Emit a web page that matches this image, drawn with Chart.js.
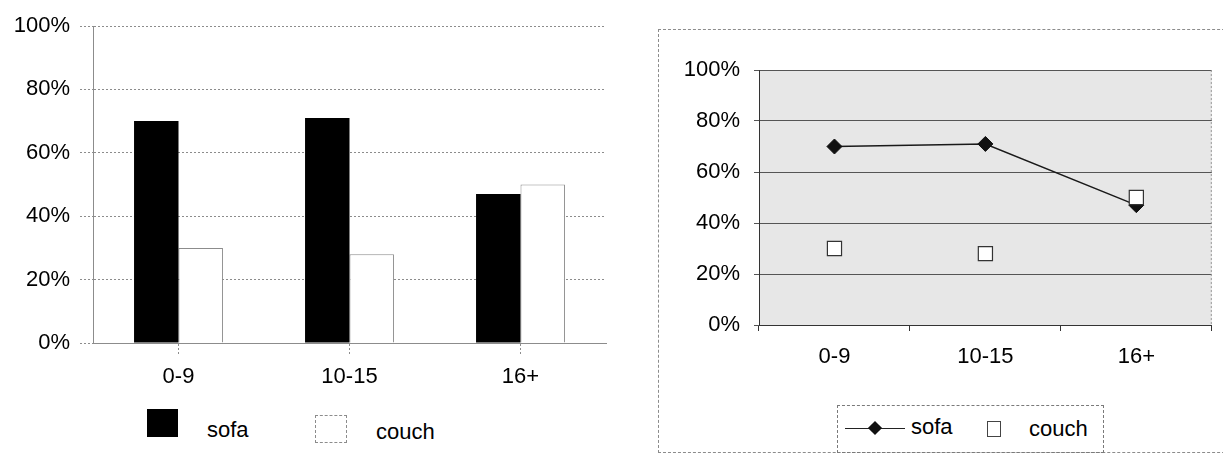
<!DOCTYPE html>
<html>
<head>
<meta charset="utf-8">
<script src="https://cdn.jsdelivr.net/npm/chart.js@4"></script>
<style>
  html, body { margin: 0; padding: 0; background: #fff; }
  body { position: relative; width: 1223px; height: 454px; overflow: hidden;
         font-family: "Liberation Sans", Arial, sans-serif; }
  .abs { position: absolute; }
  #barCanvas { position: absolute; left: 0; top: 0; }
  #lineCanvas { position: absolute; left: 640px; top: 0; }
  #frame { left: 658px; top: 29px; width: 620px; height: 422px; border: 1px dashed #8c8c8c; }
  .lbl { position: absolute; font-size: 22px; line-height: 24px; color: #000; white-space: nowrap; }
  #lineLegend { left: 837px; top: 405px; width: 265px; height: 46px; border: 1px dashed #7a7a7a; }
</style>
</head>
<body>
<div id="frame" class="abs"></div>
<canvas id="barCanvas" width="615" height="400"></canvas>
<canvas id="lineCanvas" width="583" height="400"></canvas>

<!-- legend of the column chart -->
<div class="abs" style="left:147px;top:409px;width:31px;height:28px;background:#000;"></div>
<div class="lbl" id="barLegSofa" style="left:207px;top:418px;"></div>
<div class="abs" style="left:315px;top:415px;width:30px;height:26px;background:#fff;border:1px dashed #8c8c8c;"></div>
<div class="lbl" id="barLegCouch" style="left:376px;top:420px;"></div>

<!-- legend of the line chart -->
<div id="lineLegend" class="abs"></div>
<div class="abs" style="left:845px;top:428px;width:60px;height:1px;background:#222;"></div>
<div class="abs" style="left:870px;top:423px;width:10px;height:10px;background:#111;transform:rotate(45deg);"></div>
<div class="lbl" id="lineLegSofa" style="left:911px;top:415px;"></div>
<div class="abs" style="left:987px;top:421px;width:12px;height:14px;background:#fff;border:1px solid #444;"></div>
<div class="lbl" id="lineLegCouch" style="left:1029px;top:417px;"></div>

<script>
// Age groups and the share answering each word
const categories = ['0-9', '10-15', '16+'];
const seriesNames = ['sofa', 'couch'];
const sofa = [70, 71, 47];
const couch = [30, 28, 50];
const yTickLabels = ['0%', '20%', '40%', '60%', '80%', '100%'];

document.getElementById('barLegSofa').textContent = seriesNames[0];
document.getElementById('barLegCouch').textContent = seriesNames[1];
document.getElementById('lineLegSofa').textContent = seriesNames[0];
document.getElementById('lineLegCouch').textContent = seriesNames[1];

const tickFont = { family: '"Liberation Sans", Arial, sans-serif', size: 22 };

// ---- column chart ----
new Chart(document.getElementById('barCanvas'), {
  type: 'bar',
  data: {
    labels: categories,
    datasets: [
      { label: seriesNames[0], data: sofa, backgroundColor: '#000', borderWidth: 0 },
      { label: seriesNames[1], data: couch, backgroundColor: '#fff', borderColor: '#8c8c8c', borderWidth: 1 }
    ]
  },
  options: {
    responsive: false,
    animation: false,
    devicePixelRatio: 1,
    layout: { padding: { top: 26, right: 9, left: 6, bottom: 0 } },
    plugins: { legend: { display: false }, tooltip: { enabled: false } },
    datasets: { bar: { barPercentage: 1, categoryPercentage: 0.52 } },
    scales: {
      x: {
        grid: { offset: false, drawOnChartArea: false, drawTicks: true, tickLength: 13,
                color: '#8c8c8c', tickBorderDash: [2, 2] },
        border: { display: true, color: '#8c8c8c' },
        ticks: { font: tickFont, color: '#000', padding: 8, maxRotation: 0 },
        afterFit(s) { s.height = 57; }
      },
      y: {
        min: 0, max: 100,
        ticks: { stepSize: 20, font: tickFont, color: '#000', padding: 10,
                 callback: (v, i) => yTickLabels[i] },
        grid: { color: '#8c8c8c', tickLength: 13, tickBorderDash: [2, 2] },
        border: { display: true, color: '#8c8c8c', dash: [2, 2] },
        afterFit(s) { s.width = 87; }
      }
    }
  }
});

// grey plot area and a light right edge for the line chart
const plotPanel = {
  id: 'plotPanel',
  beforeDraw(chart) {
    const { ctx, chartArea: a } = chart;
    ctx.save();
    ctx.fillStyle = '#e7e7e7';
    ctx.fillRect(a.left, a.top, a.right - a.left, a.bottom - a.top);
    ctx.restore();
  },
  afterDraw(chart) {
    const { ctx, chartArea: a } = chart;
    ctx.save();
    ctx.strokeStyle = '#9a9a9a';
    ctx.setLineDash([2, 2]);
    ctx.beginPath();
    ctx.moveTo(a.right - 0.5, a.top);
    ctx.lineTo(a.right - 0.5, a.bottom);
    ctx.stroke();
    ctx.restore();
  }
};

// ---- line chart ----
new Chart(document.getElementById('lineCanvas'), {
  type: 'line',
  data: {
    labels: categories,
    datasets: [
      { label: seriesNames[0], data: sofa, borderColor: '#1a1a1a', borderWidth: 1.5,
        pointStyle: 'rectRot', pointRadius: 7.5, pointBackgroundColor: '#111',
        pointBorderColor: '#111', pointBorderWidth: 1, tension: 0, order: 2 },
      { label: seriesNames[1], data: couch, showLine: false,
        pointStyle: 'rect', pointRadius: 10, pointBackgroundColor: '#fff',
        pointBorderColor: '#333', pointBorderWidth: 1.2, order: 1 }
    ]
  },
  options: {
    responsive: false,
    animation: false,
    devicePixelRatio: 1,
    layout: { padding: { top: 70, right: 3, left: 16, bottom: 0 } },
    plugins: { legend: { display: false }, tooltip: { enabled: false } },
    scales: {
      x: {
        offset: true,
        grid: { offset: true, drawOnChartArea: false, drawTicks: true, tickLength: 6, color: '#333' },
        border: { display: true, color: '#333' },
        ticks: { font: tickFont, color: '#000', padding: 13, maxRotation: 0 },
        afterFit(s) { s.height = 75; }
      },
      y: {
        min: 0, max: 100,
        ticks: { stepSize: 20, font: tickFont, color: '#000', padding: 14,
                 callback: (v, i) => yTickLabels[i] },
        grid: { color: '#555', tickLength: 5 },
        border: { display: true, color: '#333' },
        afterFit(s) { s.width = 103; }
      }
    }
  },
  plugins: [plotPanel]
});
</script>
</body>
</html>
